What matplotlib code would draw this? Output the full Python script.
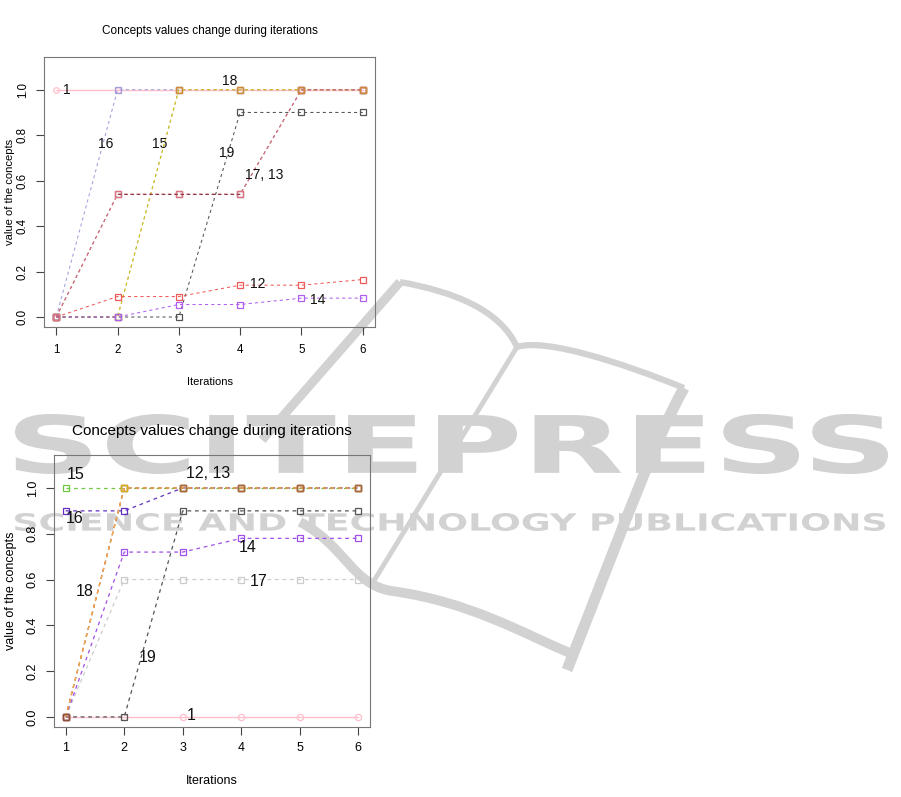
import numpy as np
import matplotlib
matplotlib.use("Agg")
import matplotlib.pyplot as plt
from matplotlib.textpath import TextPath
from matplotlib.font_manager import FontProperties
from matplotlib.patches import PathPatch
from matplotlib.path import Path
from matplotlib.transforms import Affine2D

plt.rcParams['font.family'] = ['Liberation Sans', 'DejaVu Sans']

W, H = 901, 797
iterations = [1, 2, 3, 4, 5, 6]
yticks = [0.0, 0.2, 0.4, 0.6, 0.8, 1.0]
title = 'Concepts values change during iterations'

# first scenario (top chart)
run1_c1 = [1, 1, 1, 1, 1, 1]
run1_c16 = [0, 1, 1, 1, 1, 1]
run1_c18 = [0, 0, 1, 1, 1, 1]
run1_c15 = [0, 0, 1, 1, 1, 1]
run1_c19 = [0, 0, 0, 0.9, 0.9, 0.9]
run1_c12 = [0, 0.09, 0.09, 0.14, 0.14, 0.165]
run1_c14 = [0, 0, 0.055, 0.055, 0.083, 0.083]
run1_c13 = [0, 0.54, 0.54, 0.54, 1, 1]
run1_c17 = [0, 0.54, 0.54, 0.54, 1, 1]
run1_labels = ['1', '16', '15', '18', '19', '17, 13', '12', '14']

# second scenario (bottom chart)
run2_c1 = [0, 0, 0, 0, 0, 0]
run2_c17 = [0, 0.6, 0.6, 0.6, 0.6, 0.6]
run2_c14 = [0, 0.72, 0.72, 0.78, 0.78, 0.78]
run2_c19 = [0, 0, 0.9, 0.9, 0.9, 0.9]
run2_c16 = [0.9, 0.9, 1, 1, 1, 1]
run2_c15 = [1, 1, 1, 1, 1, 1]
run2_c12 = [0, 1, 1, 1, 1, 1]
run2_c18 = [0, 1, 1, 1, 1, 1]
run2_c13 = [0, 1, 1, 1, 1, 1]
run2_labels = ['15', '16', '12, 13', '14', '17', '18', '19', '1']

# where the concept names sit (data coords)
run1_label_pos = [(1.18, 1.0), (1.81, 0.76), (2.69, 0.76), (3.83, 1.04),
                  (3.78, 0.72), (4.40, 0.625), (4.29, 0.145), (5.27, 0.075)]
run2_label_pos = [(1.17, 1.057), (1.15, 0.867), (3.43, 1.064), (4.11, 0.74),
                  (4.30, 0.59), (1.33, 0.55), (2.40, 0.26), (3.15, 0.007)]

fig = plt.figure(figsize=(W / 100, H / 100), dpi=100)
fig.patch.set_facecolor('white')

# ---- SCITEPRESS watermark (behind everything)
wm = '#d2d2d2'
to_fig = Affine2D().scale(1, -1).translate(0, H).scale(1 / W, 1 / H) + fig.transFigure

def text_in_box(s, x0, y0, x1, y1):
    fp = FontProperties(family='DejaVu Sans', weight='bold')
    tp = TextPath((0, 0), s, size=10, prop=fp)
    bb = tp.get_extents()
    tr = (Affine2D().translate(-bb.x0, -bb.y0)
          .scale((x1 - x0) / bb.width / W, (y1 - y0) / bb.height / H)
          .translate(x0 / W, 1 - y1 / H))
    fig.add_artist(PathPatch(tr.transform_path(tp), facecolor=wm, edgecolor='none',
                             transform=fig.transFigure, zorder=-5))

def stroke(pts, codes, lw):
    fig.add_artist(PathPatch(Path(pts, codes), facecolor='none', edgecolor=wm, lw=lw,
                             capstyle='butt', joinstyle='round', transform=to_fig,
                             zorder=-6))

M, L, C = Path.MOVETO, Path.LINETO, Path.CURVE4
# book-shaped logo
stroke([(400, 282), (262, 440)], [M, L], 6.5)
stroke([(400, 282), (455, 292), (500, 310), (517, 347),
        (545, 338), (620, 362), (684, 388)], [M, C, C, C, C, C, C], 4.5)
stroke([(684, 388), (655, 440), (630, 510), (567, 670)], [M, C, C, C], 8)
stroke([(300, 522), (345, 545), (352, 585), (392, 591),
        (470, 602), (520, 632), (572, 654)], [M, C, C, C, C, C, C], 7)
stroke([(517, 347), (372, 584)], [M, L], 3.5)
text_in_box('SCITEPRESS', 15, 414, 888, 474)
text_in_box('SCIENCE AND TECHNOLOGY PUBLICATIONS', 15, 513, 885, 531)

def style_axes(ax, tick, pad_x, pad_y, tlen):
    ax.set_facecolor('none')
    ax.set_xlim(0.8, 6.2)
    ax.set_ylim(-0.044, 1.144)
    ax.set_xticks(iterations)
    ax.set_yticks(yticks)
    ax.set_yticklabels([f'{v:.1f}' for v in yticks])
    for sp in ax.spines.values():
        sp.set_color('#777777')
        sp.set_linewidth(0.8)
    ax.tick_params(axis='both', direction='out', length=tlen, width=0.8,
                   color='#444444', labelsize=tick)
    ax.tick_params(axis='x', pad=pad_x)
    ax.tick_params(axis='y', pad=pad_y, labelrotation=90)
    for t in ax.get_yticklabels():
        t.set_va('center')

def draw(ax, vals, color, lw, ms):
    ax.plot(iterations, vals, color=color, lw=lw, ls=(0, (3, 3)),
            marker='s', ms=ms, mfc='none', mec=color, mew=0.9)

# ---- top chart
ax1 = fig.add_axes([44 / W, 1 - 327 / H, 331 / W, 270 / H])
style_axes(ax1, 8.3, 6, 5, 6)
lw1, ms1 = 0.75, 4
ax1.plot(iterations, run1_c1, color='#ffbfcb', lw=1.0, marker='o', ms=ms1,
         mfc='none', mec='#ffbfcb', mew=0.9)
draw(ax1, run1_c16, '#9f9fe0', lw1, ms1)
draw(ax1, run1_c18, '#d9a066', lw1, ms1)
draw(ax1, run1_c15, '#c8c820', lw1, ms1)
draw(ax1, run1_c19, '#555555', lw1, ms1)
draw(ax1, run1_c12, '#ee5a5a', lw1, ms1)
draw(ax1, run1_c14, '#b060ee', lw1, ms1)
draw(ax1, run1_c17, '#8b3a48', lw1, ms1)
draw(ax1, run1_c13, '#dd7585', lw1, ms1)
ax1.plot(iterations[1:4], run1_c17[1:4], color='#8b3a48', lw=lw1, ls=(0, (3, 3)))
ax1.plot(iterations[2:], run1_c18[2:], color='#d08a40', lw=0, marker='s',
         ms=ms1, mfc='none', mew=0.9)
for lab, (x, y) in zip(run1_labels, run1_label_pos):
    ax1.text(x, y, lab, fontsize=10, ha='center', va='center', color='#111111')
ax1.set_title(title, fontsize=8.5, pad=0, y=1.085)
ax1.set_xlabel('Iterations', fontsize=8)
ax1.xaxis.set_label_coords(0.5, -0.185)
ax1.set_ylabel('value of the concepts', fontsize=8)
ax1.yaxis.set_label_coords(-0.088, 0.5)

# ---- bottom chart
ax2 = fig.add_axes([54 / W, 1 - 727 / H, 316 / W, 272 / H])
style_axes(ax2, 9, 5, 5, 6)
lw2, ms2 = 0.9, 4.5
ax2.plot(iterations, run2_c1, color='#ffbfcb', lw=1.0, marker='o', ms=ms2,
         mfc='none', mec='#ffbfcb', mew=0.9)
draw(ax2, run2_c17, '#cccccc', lw2, ms2)
draw(ax2, run2_c14, '#a050e8', lw2, ms2)
draw(ax2, run2_c19, '#555555', lw2, ms2)
draw(ax2, run2_c16, '#6030c0', lw2, ms2)
draw(ax2, run2_c15, '#70c840', lw2, ms2)
draw(ax2, run2_c12, '#e06060', lw2, ms2)
draw(ax2, run2_c13, '#a86a3a', lw2, ms2)
draw(ax2, run2_c18, '#f5b050', lw2, ms2)
ax2.plot(iterations[2:], run2_c13[2:], color='#a86a3a', lw=0, marker='s',
         ms=ms2, mfc='none', mew=0.9)
ax2.plot(iterations[:1], run2_c13[:1], color='#8a5040', lw=0, marker='s',
         ms=ms2, mfc='none', mew=0.9)
ax2.plot(iterations[1:2], run2_c15[1:2], color='#d4b020', lw=0, marker='s',
         ms=ms2, mfc='none', mew=0.9)
for lab, (x, y) in zip(run2_labels, run2_label_pos):
    ax2.text(x, y, lab, fontsize=11.5, ha='center', va='center', color='#111111')
ax2.set_title(title, fontsize=11, pad=0, y=1.075)
ax2.set_xlabel('Iterations', fontsize=9)
ax2.xaxis.set_label_coords(0.5, -0.176)
ax2.set_ylabel('value of the concepts', fontsize=9)
ax2.yaxis.set_label_coords(-0.117, 0.5)

fig.savefig('out.png', dpi=100)
